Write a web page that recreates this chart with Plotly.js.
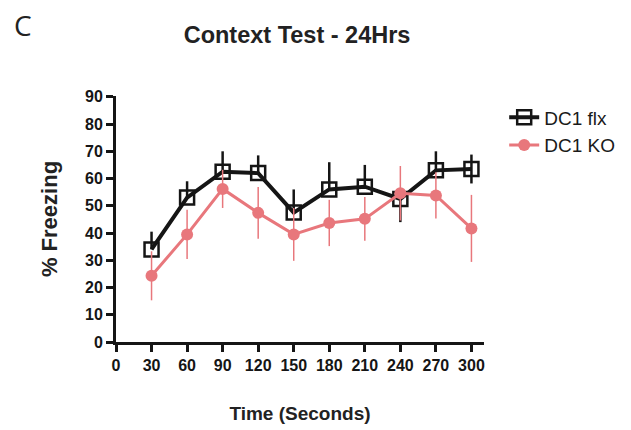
<!DOCTYPE html>
<html>
<head>
<meta charset="utf-8">
<script src="https://cdn.plot.ly/plotly-3.0.1.min.js"></script>
<style>html,body{margin:0;padding:0;background:#fff;}#chart{width:631px;height:430px;}</style>
</head>
<body>
<div id="chart"></div>
<script>
const timeSec = [30, 60, 90, 120, 150, 180, 210, 240, 270, 300];
const flxMean = [34, 53, 62.5, 62, 47.5, 56, 57, 52.5, 63, 63.5];
const flxErrUp   = [6.5, 6, 7.5, 6.5, 8.5, 10, 8, 0, 7, 5.3];
const flxErrDown = [0, 0, 0, 0, 0, 0, 0, 8.5, 0, 5.3];
const koMean  = [24.3, 39.5, 56.2, 47.4, 39.5, 43.7, 45.2, 54.6, 53.8, 41.7];
const koSem   = [9, 9, 7, 9.5, 9.7, 8.5, 8, 10, 8.5, 12.3];
const xTicks = [0, 30, 60, 90, 120, 150, 180, 210, 240, 270, 300];
const yTicks = [0, 10, 20, 30, 40, 50, 60, 70, 80, 90];

const pink = '#e8777c';
const ink = '#151515';
const fam = 'Liberation Sans, Arial, sans-serif';

const traces = [
  {
    x: timeSec, y: flxMean, name: 'DC1 flx', type: 'scatter', mode: 'lines+markers',
    line: {color: ink, width: 4},
    marker: {symbol: 'square-open', size: 14, color: ink, line: {width: 2.5}},
    error_y: {type: 'data', symmetric: false, array: flxErrUp, arrayminus: flxErrDown,
              visible: true, color: ink, thickness: 2.5, width: 0}
  },
  {
    x: timeSec, y: koMean, name: 'DC1 KO', type: 'scatter', mode: 'lines+markers',
    line: {color: pink, width: 3},
    marker: {symbol: 'circle', size: 12, color: pink},
    error_y: {type: 'data', array: koSem, visible: true, color: pink, thickness: 1.5, width: 0}
  }
];

const tickFont = {family: fam, size: 16, color: ink, weight: 'bold'};

const layout = {
  width: 631, height: 430,
  margin: {l: 116, r: 146, t: 96, b: 87.5},
  paper_bgcolor: '#fff', plot_bgcolor: '#fff',
  showlegend: true,
  legend: {
    x: 1.052, y: 0.99, xanchor: 'left', yanchor: 'top',
    traceorder: 'normal',
    font: {family: fam, size: 19, color: '#1a1a1a'},
    tracegroupgap: 4
  },
  title: {
    text: '<b>Context Test - 24Hrs</b>',
    font: {family: fam, size: 23.5, color: '#222'},
    x: 0.492, xref: 'paper', xanchor: 'center',
    y: 1 - 35/430, yref: 'container', yanchor: 'middle'
  },
  xaxis: {
    range: [0, 310.6],
    tickmode: 'array', tickvals: xTicks, ticktext: xTicks.map(String),
    showgrid: false, zeroline: false,
    showline: true, linecolor: ink, linewidth: 3,
    ticks: 'outside', ticklen: 7, tickwidth: 3, tickcolor: ink,
    tickfont: tickFont,
    title: {text: '<b>Time (Seconds)</b>', font: {family: fam, size: 19, color: '#222'}, standoff: 34}
  },
  yaxis: {
    range: [0, 90.3],
    tickmode: 'array', tickvals: yTicks, ticktext: yTicks.map(String),
    showgrid: false, zeroline: false,
    showline: true, linecolor: ink, linewidth: 3,
    ticks: 'outside', ticklen: 7, tickwidth: 3, tickcolor: ink,
    tickfont: tickFont,
    title: {text: '<b>% Freezing</b>', font: {family: fam, size: 22, color: '#222'}, standoff: 22}
  },
  annotations: [
    {
      text: 'C', xref: 'paper', yref: 'paper',
      x: (23 - 116) / 369, y: (342.5 - 25) / 246.5,
      xanchor: 'center', yanchor: 'middle', showarrow: false,
      font: {family: 'Open Sans, sans-serif', size: 28, color: '#222'}
    }
  ]
};

Plotly.newPlot('chart', traces, layout, {displayModeBar: false, staticPlot: true});
</script>
</body>
</html>
